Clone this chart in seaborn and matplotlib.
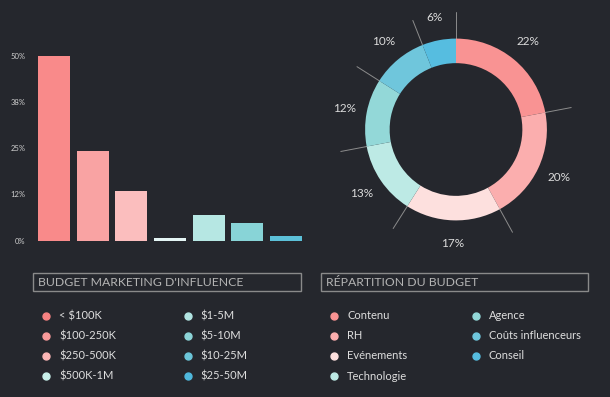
import matplotlib
matplotlib.use("Agg")
import matplotlib.pyplot as plt
from matplotlib.lines import Line2D
from matplotlib.patches import Rectangle
import numpy as np
import pandas as pd
import seaborn as sns

# bar chart data
budget_labels = ["< $100K", "$100-250K", "$250-500K", "$500K-1M",
                 "$1-5M", "$5-10M", "$10-25M", "$25-50M"]
bar_categories = ["< $100K", "$100-250K", "$250-500K", "$500K-1M",
                  "$1-5M", "$5-10M", "$10-25M"]
bar_values = [50, 24.2, 13.4, 0.6, 7.0, 4.8, 1.2]
bar_colors = ["#f98a8a", "#f9a3a3", "#fbbebe", "#e4f5f4",
              "#b6e7e3", "#88d4d7", "#5cc0d8"]
legend_bar_colors = ["#f78282", "#f99a9a", "#fbb6b6", "#c8efea",
                     "#b2e5e2", "#8dd5d8", "#6cc6d9", "#4fb8dc"]
y_ticks = [0, 12.5, 25, 37.5, 50]
y_tick_labels = ["0%", "12%", "25%", "38%", "50%"]

# donut data
pie_labels = ["Contenu", "RH", "Evénements", "Technologie",
              "Agence", "Coûts influenceurs", "Conseil"]
pie_values = [22, 20, 17, 13, 12, 10, 6]
pie_colors = ["#f99393", "#fbaeae", "#fde0de", "#bdeae5",
              "#93d8d8", "#6fc6dc", "#56bde0"]

BG = "#25272d"
W, H = 610, 397

sns.set_theme(style="dark")
plt.rcParams["font.family"] = ["Lato", "DejaVu Sans"]

fig = plt.figure(figsize=(W / 100, H / 100), dpi=100, facecolor=BG)


def px(x, y, w, h):
    # pixel box (top-left origin) -> figure fraction
    return [x / W, 1 - (y + h) / H, w / W, h / H]


# ---- bar chart ----
ax = fig.add_axes(px(35, 55.7, 270, 184.8))
ax.set_facecolor(BG)
df = pd.DataFrame({"cat": bar_categories, "val": bar_values})
sns.barplot(data=df, x="cat", y="val", hue="cat", palette=bar_colors,
            saturation=1, width=0.83, linewidth=0, legend=False, ax=ax)
ax.set_xlim(-0.5, len(bar_categories) - 0.5)
ax.set_ylim(0, 50)
ax.set_yticks(y_ticks)
ax.set_yticklabels(y_tick_labels)
ax.set_xticks([])
ax.set_xlabel("")
ax.set_ylabel("")
ax.tick_params(axis="y", length=0, pad=7, labelsize=5.5, labelcolor="#cfcfcf")
ax.grid(False)
for s in ax.spines.values():
    s.set_visible(False)

# ---- donut ----
pax = fig.add_axes(px(326, -0.5, 260, 260))
pax.set_facecolor(BG)
R = 1.0
wedges, _, autotexts = pax.pie(
    pie_values, colors=pie_colors, radius=R, startangle=90,
    counterclock=False, wedgeprops=dict(width=0.27, linewidth=0),
    autopct=lambda p: f"{p:.0f}%", pctdistance=1.25,
    textprops=dict(color="#dcdcdc", fontsize=8.5))
for w in wedges:
    a = np.deg2rad(w.theta1)
    pax.plot([0.98 * np.cos(a), 1.29 * np.cos(a)],
             [0.98 * np.sin(a), 1.29 * np.sin(a)],
             color="#8c8c8c", lw=0.7, zorder=0)
pax.set_xlim(-1.43, 1.43)
pax.set_ylim(-1.43, 1.43)
pax.set_aspect("equal")
pax.axis("off")


# ---- legends ----
def legend_block(x0, x1, title, labels, colors, col2_x):
    fig.patches.append(Rectangle((x0 / W, 1 - 290.7 / H), (x1 - x0) / W,
                                 17.4 / H, transform=fig.transFigure,
                                 fill=False, edgecolor="#8a8a8a", lw=1))
    fig.text((x0 + 5) / W, 1 - 282.3 / H, title, color="#b4b4b4",
             fontsize=8.8, va="center", ha="left")
    for i, (lab, c) in enumerate(zip(labels, colors)):
        col, row = divmod(i, 4)
        mx = (x0 + 13) if col == 0 else col2_x
        y = 1 - (315.7 + row * 20.1) / H
        fig.lines.append(Line2D([mx / W], [y], marker="o", markersize=5,
                                color=c, linestyle="none",
                                transform=fig.transFigure))
        fig.text((mx + 13) / W, y, lab, color="#dedede", fontsize=8,
                 va="center", ha="left")


legend_block(33, 300.7, "BUDGET MARKETING D'INFLUENCE", budget_labels,
             legend_bar_colors, 187.7)
legend_block(321, 588.3, "RÉPARTITION DU BUDGET", pie_labels,
             pie_colors, 475.7)

fig.savefig("out.png", dpi=100, facecolor=BG)
